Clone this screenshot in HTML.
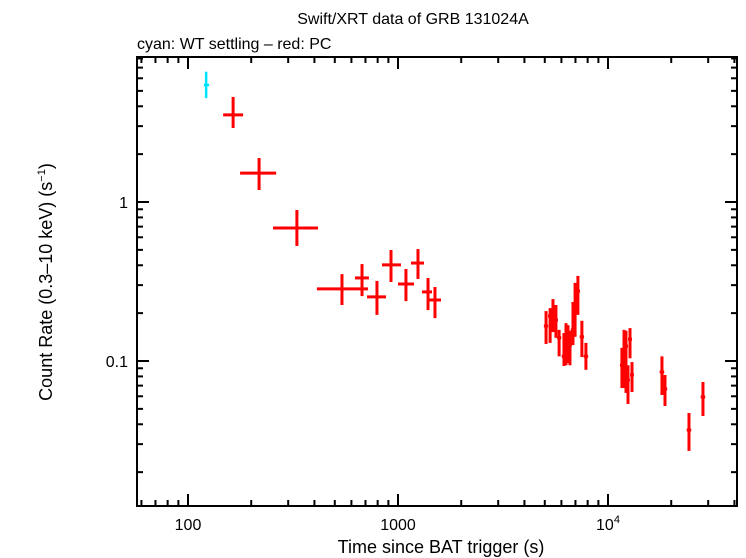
<!DOCTYPE html>
<html><head><meta charset="utf-8"><style>
body{margin:0;background:#fff;}
svg{display:block;font-family:"Liberation Sans",sans-serif;}
</style></head><body>
<svg id="chart" width="746" height="558" viewBox="0 0 746 558">
<text x="413" y="24" font-size="16" text-anchor="middle">Swift/XRT data of GRB 131024A</text>
<text x="137" y="49" font-size="16">cyan: WT settling – red: PC</text>
<text x="441" y="553" font-size="18" text-anchor="middle">Time since BAT trigger (s)</text>
<text transform="translate(52,282) rotate(-90)" font-size="18" text-anchor="middle">Count Rate (0.3–10 keV) (s<tspan font-size="11" dy="-7">−1</tspan><tspan dy="7">)</tspan></text>
<g id="ticks"></g><g id="marks"></g>
<rect x="137" y="57" width="600" height="449" fill="none" stroke="#000" stroke-width="2"/>
</svg>
<script>
const wtTime=[122], wtTimeLo=[119], wtTimeHi=[126], wtRate=[5.45], wtRateLo=[4.5], wtRateHi=[6.6];
const pcTime=[164,218,330,541,674,794,926,1091,1245,1390,1500,5070,5300,5470,5650,5850,6170,6310,6450,6590,6810,6970,7190,7510,7850,11650,11920,12180,12450,12730,13010,18070,18680,24300,28330];
const pcTimeLo=[147,177,254,411,624,712,839,1000,1153,1300,1390,4950,5180,5340,5520,5710,6020,6160,6300,6440,6650,6810,7020,7330,7660,11400,11650,11900,12180,12450,12730,17620,18220,23700,27630];
const pcTimeHi=[183,263,416,720,727,877,1033,1192,1330,1452,1603,5190,5420,5600,5780,5990,6320,6460,6600,6740,6970,7130,7360,7690,8040,11900,12190,12460,12720,13010,13290,18520,19140,24900,29030];
const pcRate=[3.53,1.52,0.686,0.284,0.333,0.253,0.402,0.305,0.413,0.272,0.242,0.166,0.192,0.195,0.181,0.140,0.107,0.144,0.121,0.126,0.157,0.203,0.275,0.142,0.107,0.094,0.117,0.124,0.076,0.137,0.0817,0.0853,0.0667,0.0368,0.0594];
const pcRateLo=[2.92,1.19,0.529,0.225,0.256,0.195,0.314,0.238,0.328,0.209,0.186,0.128,0.130,0.152,0.140,0.107,0.093,0.094,0.097,0.094,0.126,0.142,0.195,0.106,0.088,0.0676,0.0676,0.063,0.0537,0.104,0.0638,0.0611,0.0521,0.0272,0.0451];
const pcRateHi=[4.58,1.89,0.891,0.352,0.407,0.319,0.499,0.379,0.506,0.333,0.292,0.206,0.215,0.245,0.225,0.157,0.150,0.173,0.168,0.155,0.235,0.310,0.343,0.179,0.130,0.121,0.157,0.155,0.094,0.161,0.0985,0.107,0.0817,0.0471,0.0738];
const xTickVals=[100,1000,10000];
const xTickLabels=["100","1000","10^4"];
const yTickVals=[0.1,1];
const yTickLabels=["0.1","1"];
const NS="http://www.w3.org/2000/svg";
const L=137,R=737,T=57,B=506;
const X=t=>188+210*(Math.log10(t)-2);
const Y=r=>202-159*Math.log10(r);
const tk=document.getElementById('ticks'), mk=document.getElementById('marks');
function ln(g,x1,y1,x2,y2,c,w){const e=document.createElementNS(NS,'line');e.setAttribute('x1',x1);e.setAttribute('y1',y1);e.setAttribute('x2',x2);e.setAttribute('y2',y2);e.setAttribute('stroke',c);e.setAttribute('stroke-width',w);g.appendChild(e);return e;}
function tx(g,x,y,s,anchor){const e=document.createElementNS(NS,'text');e.setAttribute('x',x);e.setAttribute('y',y);e.setAttribute('font-size','16');e.setAttribute('text-anchor',anchor);g.appendChild(e);
 if(s.startsWith('10^')){e.textContent='10';const sp=document.createElementNS(NS,'tspan');sp.setAttribute('font-size','11');sp.setAttribute('dy','-7');sp.textContent=s.slice(3);e.appendChild(sp);} else e.textContent=s; return e;}
// x ticks
for(let d=1;d<=4;d++)for(let m=1;m<10;m++){const v=m*Math.pow(10,d);const x=X(v);if(x<L||x>R)continue;const len=m===1?12:6;
 const a=ln(tk,x,B,x,B-len,'#000',2);
 const b=ln(tk,x,T,x,T+len,'#000',2);}
xTickVals.forEach((v,i)=>{const e=tx(tk,X(v),530,xTickLabels[i],'middle');});
for(let d=-2;d<=1;d++)for(let m=1;m<10;m++){const v=m*Math.pow(10,d);const y=Y(v);if(y<T||y>B)continue;const len=m===1?12:6;
 const a=ln(tk,L,y,L+len,y,'#000',2);
 const b=ln(tk,R,y,R-len,y,'#000',2);}
yTickVals.forEach((v,i)=>{const e=tx(tk,128,Y(v)+6,yTickLabels[i],'end');});
function series(t,tl,th,r,rl,rh,c,w,name){for(let i=0;i<t.length;i++){
 const g=document.createElementNS(NS,'g');
 
 
 ln(g,X(tl[i]),Y(r[i]),X(th[i]),Y(r[i]),c,w);ln(g,X(t[i]),Y(rl[i]),X(t[i]),Y(rh[i]),c,w);mk.appendChild(g);}}
series(pcTime,pcTimeLo,pcTimeHi,pcRate,pcRateLo,pcRateHi,'#ff0000',3,'pc-point');
series(wtTime,wtTimeLo,wtTimeHi,wtRate,wtRateLo,wtRateHi,'#00e5ff',2.5,'wt-point');
</script>
</body></html>
